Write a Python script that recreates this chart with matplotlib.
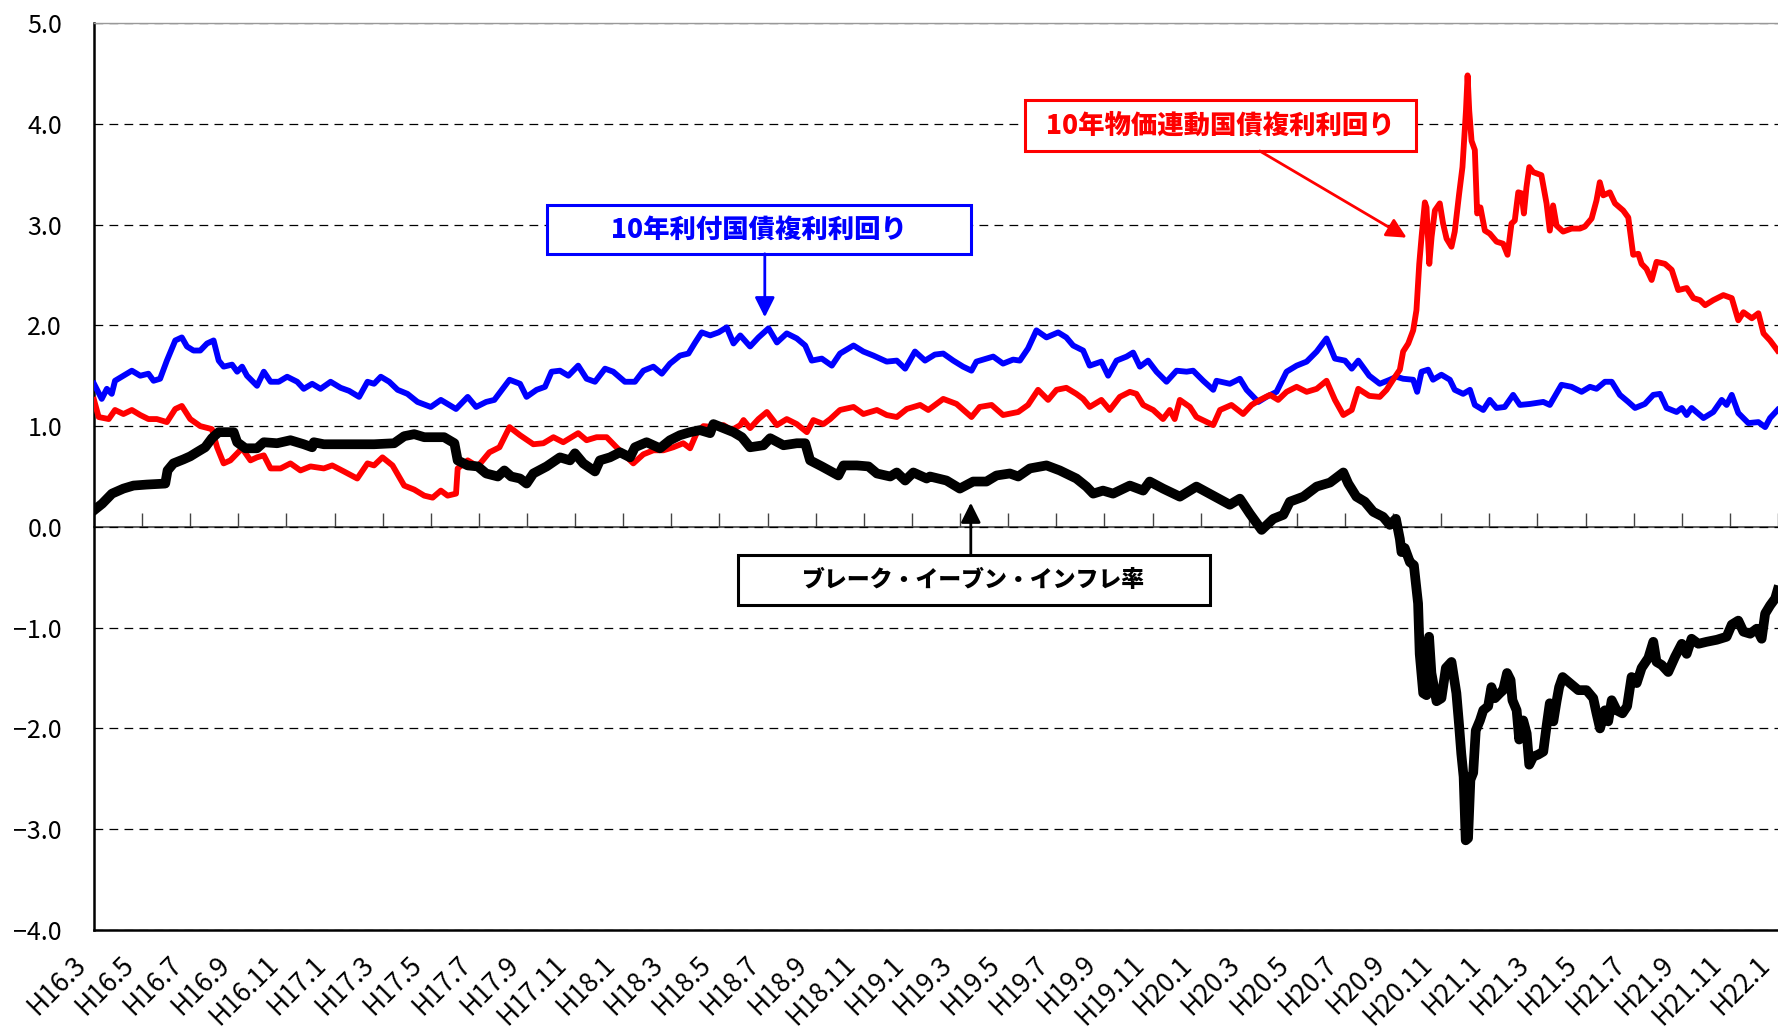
import numpy as np
import matplotlib
matplotlib.use("Agg")
import matplotlib.pyplot as plt
from matplotlib.patches import Rectangle
from matplotlib.transforms import ScaledTranslation

plt.rcParams['font.family'] = ['Noto Sans CJK JP', 'DejaVu Sans']

# horizontal position along the chart: the axis runs 0 .. X_MAX,
# with the 36 period labels spread evenly across it
X_MAX = 72.1

period_labels = ["H16.3", "H16.5", "H16.7", "H16.9", "H16.11", "H17.1", "H17.3", "H17.5",
                 "H17.7", "H17.9", "H17.11", "H18.1", "H18.3", "H18.5", "H18.7", "H18.9",
                 "H18.11", "H19.1", "H19.3", "H19.5", "H19.7", "H19.9", "H19.11", "H20.1",
                 "H20.3", "H20.5", "H20.7", "H20.9", "H20.11", "H21.1", "H21.3", "H21.5",
                 "H21.7", "H21.9", "H21.11", "H22.1"]
y_ticks = [-4, -3, -2, -1, 0, 1, 2, 3, 4, 5]

# 10年利付国債複利利回り
nominal_x = [0, 0.33, 0.55, 0.76, 0.9, 1.26, 1.62, 1.98, 2.33, 2.55, 2.83, 3.12, 3.48, 3.76,
             3.98, 4.26, 4.55, 4.84, 5.12, 5.34, 5.55, 5.91, 6.13, 6.34, 6.55, 6.98, 7.27,
             7.56, 7.91, 8.27, 8.70, 8.98, 9.34, 9.70, 10.13, 10.56, 10.92, 11.35, 11.71,
             11.99, 12.28, 12.64, 13.0, 13.42, 13.85, 14.42, 14.85, 15.21, 15.50, 16.0,
             16.36, 16.79, 17.14, 17.79, 18.24, 18.52, 18.95, 19.31, 19.59, 19.95, 20.31,
             20.73, 21.09, 21.45, 21.88, 22.23, 22.73, 23.16, 23.52, 23.95, 24.31, 24.66,
             25.09, 25.45, 25.74, 26.02, 26.38, 26.74, 27.09, 27.38, 27.67, 28.09, 28.45,
             28.88, 29.24, 29.66, 30.09, 30.45, 30.73, 31.16, 31.59, 31.94, 32.52, 32.94,
             33.37, 33.94, 34.37, 34.73, 35.15, 35.58, 36.0, 36.36, 36.79, 37.21, 37.57,
             37.78, 38.21, 38.50, 38.92, 39.35, 39.64, 39.99, 40.35, 40.78, 41.28, 41.63,
             41.92, 42.35, 42.63, 43.13, 43.42, 43.78, 44.21, 44.49, 44.78, 45.13, 45.49,
             45.92, 46.35, 46.78, 47.06, 47.49, 47.92, 48.06, 48.63, 49.06, 49.35, 49.85,
             50.20, 50.63, 51.06, 51.49, 51.92, 52.35, 52.77, 53.13, 53.56, 53.85, 54.13,
             54.6, 55.05, 55.48, 55.76, 56.05, 56.48, 56.65, 56.84, 57.12, 57.33, 57.69,
             58.05, 58.26, 58.62, 58.91, 59.12, 59.48, 59.76, 60.05, 60.40, 60.76, 61.05,
             61.48, 62.05, 62.33, 62.83, 63.26, 63.69, 64.05, 64.33, 64.69, 64.98, 65.33,
             65.69, 65.98, 66.40, 66.76, 67.05, 67.33, 67.76, 67.98, 68.19, 68.40, 68.91,
             69.33, 69.69, 69.90, 70.12, 70.40, 70.83, 71.26, 71.55, 71.76, 72.08]
nominal_y = [1.42, 1.27, 1.37, 1.32, 1.45, 1.50, 1.55, 1.50, 1.52, 1.45, 1.47, 1.65, 1.85, 1.88,
             1.79, 1.75, 1.75, 1.82, 1.85, 1.65, 1.59, 1.61, 1.54, 1.59, 1.50, 1.40, 1.54,
             1.44, 1.44, 1.49, 1.44, 1.37, 1.42, 1.37, 1.44, 1.38, 1.35, 1.29, 1.44,
             1.42, 1.49, 1.44, 1.36, 1.32, 1.24, 1.19, 1.26, 1.21, 1.17, 1.29,
             1.19, 1.24, 1.26, 1.46, 1.42, 1.29, 1.36, 1.39, 1.54, 1.55, 1.50,
             1.60, 1.47, 1.44, 1.57, 1.54, 1.44, 1.44, 1.55, 1.59, 1.52, 1.62,
             1.70, 1.72, 1.83, 1.93, 1.90, 1.93, 1.98, 1.82, 1.90, 1.79, 1.88,
             1.97, 1.83, 1.92, 1.87, 1.80, 1.65, 1.67, 1.60, 1.72, 1.80, 1.74,
             1.70, 1.64, 1.65, 1.57, 1.74, 1.65, 1.71, 1.72, 1.65, 1.59, 1.55,
             1.64, 1.67, 1.69, 1.62, 1.66, 1.65, 1.77, 1.95, 1.88, 1.93, 1.88,
             1.80, 1.75, 1.60, 1.64, 1.50, 1.65, 1.69, 1.73, 1.59, 1.65, 1.54,
             1.44, 1.55, 1.54, 1.55, 1.45, 1.36, 1.45, 1.42, 1.47, 1.36, 1.24,
             1.29, 1.34, 1.54, 1.60, 1.64, 1.74, 1.87, 1.67, 1.65, 1.57, 1.65,
             1.50, 1.42, 1.46, 1.49, 1.47, 1.46, 1.34, 1.54, 1.56, 1.46, 1.51,
             1.46, 1.36, 1.32, 1.36, 1.21, 1.16, 1.26, 1.18, 1.19, 1.31, 1.21,
             1.22, 1.24, 1.21, 1.41, 1.39, 1.34, 1.39, 1.37, 1.44, 1.44, 1.31,
             1.24, 1.18, 1.22, 1.31, 1.32, 1.18, 1.14, 1.18, 1.11, 1.18, 1.08,
             1.14, 1.26, 1.21, 1.31, 1.13, 1.03, 1.04, 0.99, 1.08, 1.16]

# 10年物価連動国債複利利回り
linker_x = [0, 0.2, 0.63, 0.9, 1.26, 1.62, 1.98, 2.33, 2.69, 3.12, 3.48, 3.76, 4.12, 4.55,
            5.05, 5.27, 5.55, 5.84, 6.13, 6.34, 6.70, 6.98, 7.27, 7.56, 7.99, 8.41, 8.84,
            9.27, 9.84, 10.20, 10.70, 11.27, 11.71, 11.99, 12.35, 12.78, 13.28, 13.71,
            14.14, 14.5, 14.85, 15.14, 15.50, 15.57, 16.0, 16.43, 16.93, 17.36, 17.79,
            18.24, 18.81, 19.24, 19.67, 20.09, 20.73, 21.09, 21.52, 21.95, 22.37, 22.73,
            23.09, 23.52, 23.95, 24.38, 24.80, 25.23, 25.52, 25.80, 26.09, 26.52, 26.95,
            27.30, 27.67, 27.81, 28.09, 28.45, 28.81, 29.24, 29.66, 30.09, 30.52, 30.80,
            31.23, 31.52, 31.94, 32.52, 32.94, 33.52, 33.94, 34.37, 34.80, 35.37, 35.72,
            36.36, 36.93, 37.57, 37.92, 38.43, 38.92, 39.57, 39.99, 40.42, 40.85, 41.21,
            41.63, 42.06, 42.35, 42.63, 43.13, 43.49, 43.92, 44.35, 44.63, 44.92, 45.35,
            45.77, 46.06, 46.27, 46.49, 46.92, 47.20, 47.92, 48.21, 48.70, 49.20, 49.56,
            49.92, 50.35, 50.70, 51.06, 51.49, 51.92, 52.35, 52.77, 53.13, 53.49, 53.85,
            54.13, 54.6, 55.05, 55.34, 55.62, 55.91, 56.05, 56.27, 56.48, 56.62, 56.74,
            56.84, 56.98, 57.05, 57.17, 57.27, 57.41, 57.62, 57.76, 57.91, 58.12, 58.26,
            58.45, 58.59, 58.74, 58.81, 58.88, 58.98, 59.12, 59.22, 59.36, 59.55, 59.76,
            60.05, 60.33, 60.52, 60.69, 60.83, 60.98, 61.12, 61.22, 61.33, 61.45, 61.62,
            61.97, 62.19, 62.33, 62.47, 62.62, 62.90, 63.26, 63.62, 63.83, 64.12, 64.33,
            64.47, 64.62, 64.90, 65.12, 65.47, 65.69, 65.90, 66.12, 66.26, 66.47, 66.69,
            66.90, 67.26, 67.55, 67.83, 68.19, 68.48, 68.76, 68.98, 69.33, 69.76, 70.12,
            70.40, 70.62, 70.98, 71.26, 71.48, 71.76, 72.08]
linker_y = [1.26, 1.09, 1.07, 1.16, 1.12, 1.16, 1.11, 1.07, 1.07, 1.04, 1.17, 1.20, 1.07, 1.00,
            0.97, 0.79, 0.63, 0.66, 0.73, 0.78, 0.66, 0.69, 0.71, 0.58, 0.58, 0.63, 0.56,
            0.60, 0.58, 0.61, 0.55, 0.48, 0.63, 0.61, 0.69, 0.61, 0.41, 0.37,
            0.31, 0.29, 0.36, 0.31, 0.33, 0.58, 0.66, 0.60, 0.74, 0.79, 0.99,
            0.91, 0.82, 0.83, 0.89, 0.84, 0.93, 0.86, 0.89, 0.89, 0.79, 0.71,
            0.63, 0.72, 0.76, 0.76, 0.79, 0.83, 0.78, 0.93, 1.00, 0.99, 1.01,
            0.96, 1.01, 1.06, 0.98, 1.07, 1.14, 1.01, 1.07, 1.02, 0.94, 1.06,
            1.02, 1.07, 1.16, 1.19, 1.12, 1.16, 1.11, 1.09, 1.17, 1.21, 1.16,
            1.27, 1.22, 1.09, 1.19, 1.21, 1.11, 1.14, 1.21, 1.36, 1.26, 1.36,
            1.38, 1.32, 1.27, 1.19, 1.26, 1.16, 1.29, 1.34, 1.32, 1.21, 1.16,
            1.07, 1.16, 1.07, 1.26, 1.19, 1.09, 1.01, 1.16, 1.21, 1.12, 1.21,
            1.26, 1.31, 1.26, 1.34, 1.39, 1.34, 1.37, 1.45, 1.26, 1.11, 1.16,
            1.37, 1.30, 1.29, 1.36, 1.46, 1.56, 1.74, 1.82, 1.95, 2.15, 2.61,
            2.88, 3.22, 3.17, 2.61, 2.88, 3.14, 3.21, 3.01, 2.86, 2.78, 2.93,
            3.31, 3.57, 4.13, 4.48, 4.13, 3.83, 3.74, 3.11, 3.17, 2.94, 2.91,
            2.83, 2.81, 2.70, 3.01, 3.04, 3.32, 3.31, 3.11, 3.37, 3.57, 3.52,
            3.49, 3.21, 2.94, 3.19, 2.99, 2.93, 2.96, 2.96, 2.98, 3.06, 3.24,
            3.42, 3.29, 3.32, 3.21, 3.14, 3.07, 2.70, 2.71, 2.61, 2.56, 2.45,
            2.63, 2.61, 2.55, 2.35, 2.37, 2.27, 2.25, 2.20, 2.25, 2.30, 2.27,
            2.05, 2.13, 2.07, 2.12, 1.92, 1.85, 1.75]

# ブレーク・イーブン・インフレ率
bei_x = [0, 0.35, 0.77, 1.26, 1.69, 2.26, 3.05, 3.15, 3.40, 3.83, 4.12, 4.40, 4.76, 5.05,
         5.34, 5.98, 6.13, 6.48, 6.98, 7.27, 7.84, 8.41, 8.98, 9.34, 9.41, 9.84, 11.27,
         11.99, 12.85, 13.28, 13.71, 14.14, 14.99, 15.43, 15.57, 16.0, 16.43, 16.79, 17.29,
         17.57, 17.86, 18.24, 18.52, 18.81, 19.38, 19.95, 20.38, 20.59, 20.95, 21.45,
         21.66, 22.09, 22.52, 22.95, 23.16, 23.66, 24.23, 24.66, 25.09, 25.52, 25.95,
         26.38, 26.52, 26.95, 27.38, 27.74, 28.09, 28.66, 28.95, 29.52, 30.09, 30.45,
         30.66, 31.16, 31.87, 32.09, 32.66, 33.16, 33.52, 34.09, 34.37, 34.73, 35.08,
         35.65, 35.79, 36.50, 37.07, 37.64, 38.21, 38.64, 39.21, 39.57, 40.07, 40.78,
         41.35, 42.06, 42.49, 42.78, 43.2, 43.63, 44.35, 44.92, 45.20, 45.77, 46.49,
         47.20, 47.92, 48.63, 49.06, 49.49, 49.99, 50.49, 50.92, 51.20, 51.78, 52.35,
         52.92, 53.49, 53.70, 54.05, 54.41, 54.77, 55.19, 55.48, 55.74, 55.91, 55.98,
         56.12, 56.34, 56.51, 56.69, 56.76, 56.91, 57.05, 57.16, 57.26, 57.48, 57.69,
         57.88, 58.12, 58.26, 58.33, 58.44, 58.54, 58.64, 58.73, 58.83, 58.93, 59.05,
         59.16, 59.34, 59.48, 59.69, 59.83, 59.98, 60.19, 60.33, 60.50, 60.65, 60.73,
         60.91, 61.02, 61.19, 61.34, 61.45, 61.62, 61.83, 62.05, 62.19, 62.33, 62.48,
         62.62, 62.73, 62.88, 63.19, 63.55, 63.90, 64.19, 64.33, 64.48, 64.69, 64.83,
         64.98, 65.19, 65.44, 65.64, 65.83, 66.05, 66.26, 66.55, 66.76, 66.90, 67.12,
         67.40, 67.69, 67.98, 68.19, 68.40, 68.69, 69.05, 69.48, 69.90, 70.12, 70.40,
         70.62, 70.91, 71.19, 71.40, 71.55, 71.76, 71.98, 72.08]
bei_y = [0.165, 0.23, 0.33, 0.38, 0.41, 0.42, 0.43, 0.56, 0.63, 0.67, 0.70, 0.74, 0.79, 0.88,
         0.94, 0.94, 0.84, 0.78, 0.78, 0.84, 0.83, 0.86, 0.82, 0.79, 0.84, 0.82, 0.82,
         0.82, 0.83, 0.90, 0.92, 0.89, 0.89, 0.83, 0.66, 0.61, 0.60, 0.53, 0.50,
         0.56, 0.50, 0.48, 0.43, 0.53, 0.60, 0.69, 0.66, 0.73, 0.63, 0.55,
         0.66, 0.69, 0.74, 0.69, 0.79, 0.84, 0.78, 0.86, 0.91, 0.94, 0.96,
         0.93, 1.02, 0.98, 0.94, 0.89, 0.79, 0.81, 0.88, 0.81, 0.83, 0.83,
         0.66, 0.60, 0.51, 0.61, 0.61, 0.60, 0.53, 0.50, 0.54, 0.46, 0.54,
         0.48, 0.50, 0.46, 0.38, 0.45, 0.45, 0.51, 0.53, 0.50, 0.58, 0.61,
         0.56, 0.48, 0.40, 0.33, 0.36, 0.33, 0.41, 0.36, 0.45, 0.38, 0.30,
         0.40, 0.31, 0.22, 0.28, 0.13, -0.03, 0.08, 0.12, 0.25, 0.30, 0.40,
         0.44, 0.54, 0.43, 0.30, 0.25, 0.15, 0.10, 0.02, 0.08, -0.12, -0.25,
         -0.21, -0.35, -0.38, -0.76, -1.26, -1.65, -1.67, -1.09, -1.45, -1.73, -1.70,
         -1.40, -1.34, -1.55, -1.65, -1.95, -2.25, -2.48, -3.11, -3.09, -2.51, -2.44,
         -2.02, -1.92, -1.82, -1.78, -1.59, -1.70, -1.65, -1.62, -1.45, -1.52, -1.72,
         -1.82, -2.11, -1.92, -2.05, -2.36, -2.28, -2.26, -2.23, -1.98, -1.75, -1.93,
         -1.73, -1.59, -1.49, -1.55, -1.62, -1.62, -1.70, -1.85, -2.00, -1.82, -1.93,
         -1.72, -1.82, -1.85, -1.78, -1.49, -1.55, -1.40, -1.30, -1.14, -1.34, -1.37,
         -1.44, -1.29, -1.16, -1.26, -1.11, -1.16, -1.14, -1.12, -1.09, -0.97, -0.93,
         -1.04, -1.06, -1.01, -1.11, -0.86, -0.78, -0.71, -0.63]

W, H = 1778, 1032
fig = plt.figure(figsize=(W / 100, H / 100), dpi=100)
ax = fig.add_axes([94 / W, 1 - 930 / H, 1684 / W, 907 / H])

ax.plot(nominal_x, nominal_y, color='#0000ff', lw=4.2, zorder=3, solid_joinstyle='round')
ax.plot(linker_x, linker_y, color='#ff0000', lw=4.2, zorder=4, solid_joinstyle='round')
ax.plot(bei_x, bei_y, color='black', lw=7, zorder=5, solid_joinstyle='round')

ax.set_xlim(0, X_MAX)
ax.set_ylim(-4, 5)

# y axis
ax.set_yticks(y_ticks)
ax.set_yticklabels([f"{v:.1f}".replace('-', '\u2212') for v in y_ticks], fontsize=18)
ax.tick_params(axis='y', length=0, pad=23)
ax.grid(axis='y', color='black', lw=0.9, linestyle=(0, (7, 5)))
ax.set_axisbelow(True)

# x labels along the bottom, nudged a little to the left of their tick
label_pos = np.linspace(0, X_MAX, len(period_labels))
ax.set_xticks(label_pos)
ax.set_xticklabels(period_labels, fontsize=19, rotation=45, ha='right', va='center',
                   rotation_mode='anchor')
ax.tick_params(axis='x', length=0, pad=22)
nudge = ScaledTranslation(-9 / 72, 0, fig.dpi_scale_trans)
for lab in ax.get_xticklabels():
    lab.set_transform(lab.get_transform() + nudge)

for side in ['left', 'bottom']:
    ax.spines[side].set_linewidth(1.8)
ax.spines['right'].set_visible(False)
ax.spines['top'].set_color('#999999')
ax.spines['top'].set_linewidth(1)

# zero line with small upward ticks
zero_axis = ax.secondary_xaxis(4 / 9)
zero_axis.set_xticks(label_pos)
zero_axis.tick_params(direction='in', length=10, width=1, color='#444444', labelbottom=False,
                      labeltop=False)
for side in ['top', 'bottom']:
    zero_axis.spines[side].set_color('#444444')
    zero_axis.spines[side].set_linewidth(1.2)


def label_box(text, x0, x1, y0, y1, color, size):
    ax.add_patch(Rectangle((x0, y0), x1 - x0, y1 - y0, facecolor='white', edgecolor=color,
                           lw=2.2, zorder=6))
    ax.text((x0 + x1) / 2, (y0 + y1) / 2, text, color=color, fontsize=size,
            fontweight='heavy', ha='center', va='center', zorder=7)


def pointer(tail, head, color):
    ax.annotate('', xy=head, xytext=tail, zorder=6,
                arrowprops=dict(arrowstyle='-|>,head_length=0.6,head_width=0.3', color=color,
                                lw=2, shrinkA=0, shrinkB=0, mutation_scale=20))


label_box('10年利付国債複利利回り', 19.39, 37.54, 2.71, 3.19, '#0000ff', 19)
pointer((28.72, 2.71), (28.72, 2.08), '#0000ff')

label_box('10年物価連動国債複利利回り', 39.85, 56.59, 3.73, 4.24, '#ff0000', 19)
pointer((49.91, 3.73), (56.2, 2.87), '#ff0000')

label_box('ブレーク・イーブン・インフレ率', 27.57, 47.77, -0.78, -0.28, 'black', 16.5)
pointer((37.54, -0.28), (37.54, 0.24), 'black')

fig.savefig('out.png', dpi=100)
